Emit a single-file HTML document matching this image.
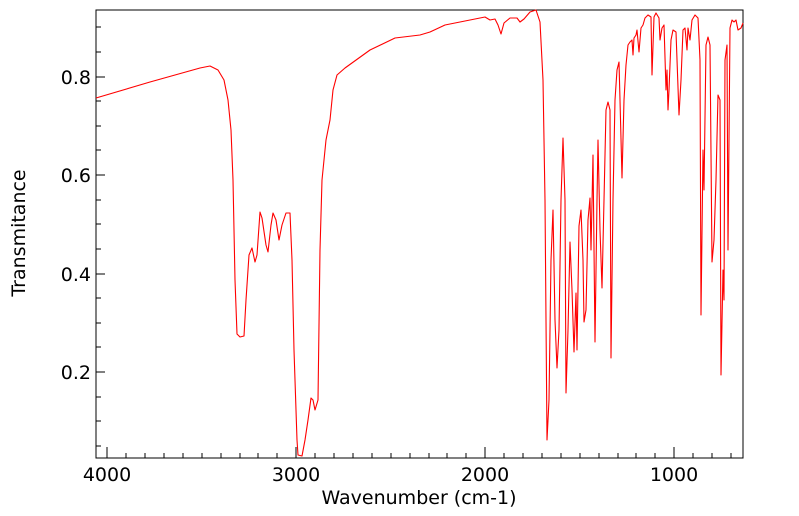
<!DOCTYPE html>
<html><head><style>body{margin:0;background:#fff}svg{display:block;font-family:"DejaVu Sans","Liberation Sans",sans-serif}</style></head><body>
<svg width="799" height="516" viewBox="0 0 799 516">
<rect x="96" y="10" width="647" height="448" fill="none" stroke="#000" stroke-width="1"/>
<g stroke="#000" stroke-width="1">
<path d="M107,458v-11M296,458v-11M485,458v-11M674,458v-11M96,77h9M96,175h9M96,274h9M96,372h9"/>
<path d="M126,458v-5M145,458v-5M164,458v-5M183,458v-5M202,458v-5M221,458v-5M240,458v-5M258,458v-5M277,458v-5M315,458v-5M334,458v-5M353,458v-5M372,458v-5M391,458v-5M410,458v-5M429,458v-5M447,458v-5M466,458v-5M504,458v-5M523,458v-5M542,458v-5M561,458v-5M580,458v-5M599,458v-5M618,458v-5M636,458v-5M655,458v-5M693,458v-5M712,458v-5M731,458v-5"/>
<path d="M96,27h5M96,52h5M96,101h5M96,126h5M96,150h5M96,200h5M96,224h5M96,249h5M96,298h5M96,323h5M96,347h5M96,397h5M96,421h5M96,446h5"/>
</g>
<g font-size="19" fill="#000" text-anchor="middle">
<text x="107" y="481">4000</text><text x="296" y="481">3000</text><text x="485" y="481">2000</text><text x="674" y="481">1000</text>
<text x="419" y="504">Wavenumber (cm-1)</text>
</g>
<g font-size="19" fill="#000" text-anchor="end">
<text x="91" y="84">0.8</text><text x="91" y="182">0.6</text><text x="91" y="281">0.4</text><text x="91" y="379">0.2</text>
</g>
<text transform="translate(25,233) rotate(-90)" font-size="19" text-anchor="middle">Transmitance</text>
<polyline fill="none" stroke="#f00" stroke-width="1.1" stroke-linejoin="round" points="96,98 150,82 200,68 210,66 218,70 224,80 228,100 231,130 233,180 235,280 237,334 240,337 244,336 246,300 249,255 252,248 255,262 257,255 260,212 262,218 266,245 268,252 271,225 273,213 276,220 279,240 282,225 286,213 290,213 292,260 294,350 297,440 298,455 302,456 305,440 308,420 311,398 313,400 315,410 318,400 320,250 322,180 326,140 330,120 333,90 337,75 345,68 370,50 395,38 420,35 430,32 445,25 470,20 485,17 490,20 495,19 498,25 501,34 504,23 510,18 517,18 520,22 524,19 530,12 536,10 540,22 543,80 545,200 547,440 549,400 551,260 553,210 555,320 557,368 559,330 561,200 563,138 565,200 566,393 568,330 570,242 572,290 574,352 576,293 577,350 579,226 581,210 583,260 584,322 586,310 588,220 590,198 591,250 593,155 595,342 597,200 598,140 600,230 602,288 604,200 606,110 608,102 610,110 611,358 613,200 615,100 617,70 619,62 620,100 622,178 624,100 626,65 628,45 630,42 632,40 633,55 634,38 636,35 637,30 639,52 641,28 643,25 645,18 648,15 651,17 652,75 654,17 656,13 659,18 660,40 662,28 664,25 666,90 667,70 668,110 669,90 671,40 673,30 676,32 679,115 681,80 683,30 685,28 687,50 688,28 690,40 692,20 695,15 698,18 700,60 701,315 703,150 704,190 706,45 708,37 710,45 712,262 714,240 716,180 718,95 720,100 721,375 723,270 724,300 725,60 727,45 728,250 730,28 732,20 734,22 736,20 738,30 741,28 743,23"/>
</svg>
</body></html>
